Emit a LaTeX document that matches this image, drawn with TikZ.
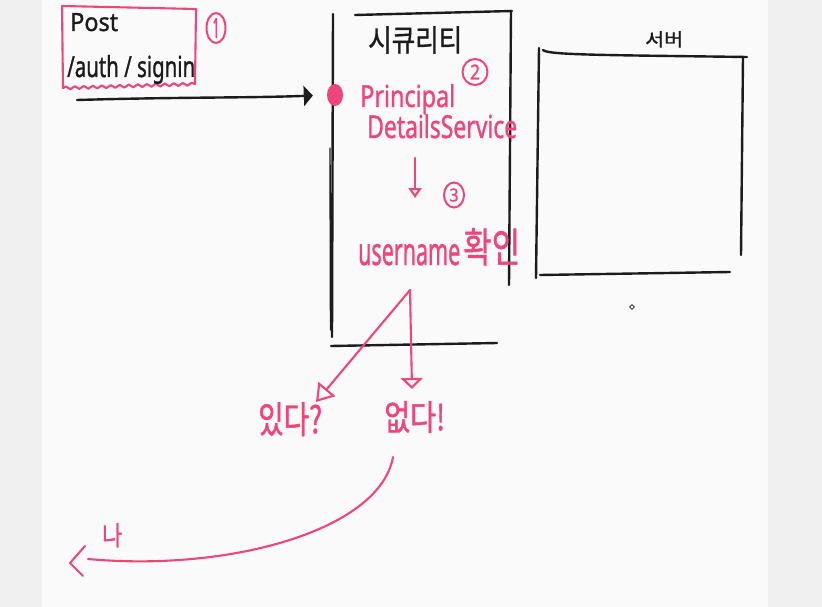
\documentclass[tikz,border=0pt]{standalone}
\usepackage{graphicx}
\usepackage{fontspec}
\setmainfont{Noto Sans}[FakeBold=1.2]
\newfontfamily\krfont{Noto Sans CJK KR}[FakeBold=1.2]
\usetikzlibrary{arrows.meta,decorations.pathmorphing,shapes.geometric}
\definecolor{rose}{RGB}{238,70,122}
\definecolor{ink}{RGB}{28,28,28}
\definecolor{pagegray}{RGB}{240,240,240}
\definecolor{canvas}{RGB}{250,250,250}
\newcommand\fitbox[3]{\resizebox{#1pt}{#2pt}{#3}}
\tikzset{
  inkpen/.style={draw=ink, line width=2.4pt, line cap=round, line join=round},
  rosepen/.style={draw=rose, line width=2.1pt, line cap=round, line join=round},
  inktext/.style={inner sep=0pt, text=ink},
  rosetext/.style={inner sep=0pt, text=rose},
  numring/.style={ellipse, draw=rose, line width=2pt, inner sep=0pt, text=rose},
}
\begin{document}
\begin{tikzpicture}[x=1pt,y=-1pt]
\fill[pagegray] (0,0) rectangle (822,607);
\fill[canvas] (42,0) rectangle (768,607);
\useasboundingbox (0,0) rectangle (822,607);

% ---- request box (1)
\draw[rosepen] (63,88) -- (62,6) -- (196,9) -- (195,83);
\draw[rosepen, decorate, decoration={snake, amplitude=1.4pt, segment length=9pt}] (63,88) -- (195,84);
\node[inktext, anchor=base west] (post) at (70,31) {\fitbox{48}{18}{Post}};
\node[inktext, anchor=base west] (url) at (67,77) {\fitbox{128}{22}{/auth / signin}};
\node[numring, minimum width=19pt, minimum height=30pt] (n1) at (216,28) {\fitbox{7}{20}{1}};

% ---- security box
\draw[inkpen] (333,14) -- (332,337);
\draw[ink, line width=1.4pt, line cap=round] (330,148) -- (330.5,330);
\draw[inkpen] (355,15) -- (512,11);
\draw[inkpen] (511,11) -- (509,285);
\draw[inkpen] (331,346) -- (497,343);
\node[inktext, anchor=north west] (sec) at (368,26) {\fitbox{94}{25}{\krfont 시큐리티}};

% ---- entry point and request arrow
\node[ellipse, fill=rose, minimum width=16pt, minimum height=22pt, inner sep=0pt] (dot) at (335,95) {};
\coordinate (src) at (77,100);
\draw[inkpen, shorten >=14pt, -{Triangle[length=9pt,width=20pt]}] (src) .. controls (180,97) and (250,98) .. (dot.west);

% ---- service texts
\node[rosetext, anchor=base west] (principal) at (360,107) {\fitbox{95}{23}{Principal}};
\node[numring, minimum width=25pt, minimum height=26pt] (n2) at (475,72) {\fitbox{10}{15}{2}};
\node[rosetext, anchor=base west] (details) at (367,138) {\fitbox{150}{24}{DetailsService}};
\coordinate (a3s) at (415,158);
\coordinate (a3e) at (415,198);
\draw[rosepen, -{Triangle[open,length=10pt,width=13pt]}] (a3s) -- (a3e);
\node[numring, minimum width=20pt, minimum height=25pt] (n3) at (454,195) {\fitbox{9}{13}{3}};
\node[rosetext, anchor=base west] (user) at (358,265) {\fitbox{102}{21}{username}};
\node[rosetext, anchor=north west] (check) at (463,228) {\fitbox{57}{34}{\krfont 확인}};

% ---- branches
\coordinate (split) at (410,290);
\node[rosetext, anchor=north west] (yes) at (258,402) {\fitbox{64}{31}{\krfont 있다?}};
\node[rosetext, anchor=north west] (no) at (384,401) {\fitbox{61}{29}{\krfont 없다!}};
\draw[rosepen, -{Triangle[open,length=17pt,width=22pt]}] (split) -- (yes.north -| 316,388);
\draw[rosepen, -{Triangle[open,length=11pt,width=22pt]}] (split) -- (412,389);

% ---- back to me
\coordinate (back) at (393,457);
\coordinate (meend) at (88,559);
\draw[rosepen] (back) .. controls (380,530) and (230,572) .. (meend);
\draw[rosepen] (85,546) -- (70,563) -- (83,576);
\node[rosetext, anchor=north west] (me) at (102,523) {\fitbox{20}{22}{\krfont 나}};

% ---- server box
\node[inktext, anchor=north west] (srv) at (645,31) {\fitbox{38}{15}{\krfont 서버}};
\draw[inkpen] (539,48) -- (536,278);
\draw[inkpen] (543,50) .. controls (548,55) and (600,55) .. (747,57);
\draw[inkpen] (743,57) -- (741,255);
\draw[inkpen] (540,275) -- (730,272);

% ---- cursor mark
\node[diamond, draw=ink, line width=0.7pt, minimum size=5pt, inner sep=0pt] (mark) at (632,307) {};
\end{tikzpicture}
\end{document}
